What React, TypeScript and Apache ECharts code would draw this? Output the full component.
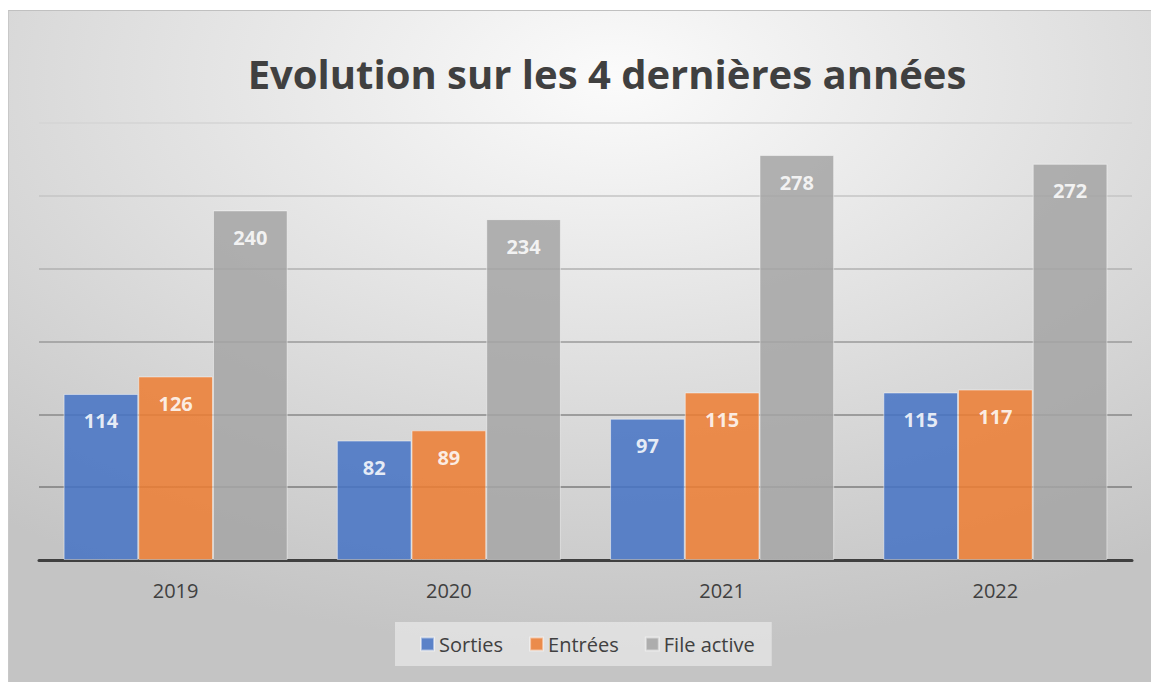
import React, { useEffect, useRef } from "react";
import * as echarts from "echarts";

const years = ["2019", "2020", "2021", "2022"];
const sorties = [114, 82, 97, 115];
const entrees = [126, 89, 115, 117];
const fileActive = [240, 234, 278, 272];
const titleText = "Evolution sur les 4 dernières années";
const FONT = "'Open Sans', 'Noto Sans', sans-serif";

export default function App() {
  const ref = useRef<HTMLDivElement>(null);
  useEffect(() => {
    if (!ref.current) return;
    const chart = echarts.init(ref.current, null, { renderer: "svg" });
    const label = {
      show: true,
      position: "insideTop",
      distance: 17,
      color: "#ffffff",
      fontWeight: "bold",
      fontSize: 20,
      fontFamily: FONT,
    };
    const mk = (name: string, data: number[], color: string) => ({
      name,
      type: "bar",
      data,
      barGap: "0%",
      barCategoryGap: "18%",
      itemStyle: {
        color,
        opacity: 0.85,
        borderColor: "rgba(255,255,255,0.55)",
        borderWidth: 1,
      },
      label,
    });
    chart.setOption({
      animation: false,
      backgroundColor: {
        type: "radial",
        x: 0.53,
        y: 0.1,
        r: 0.85,
        colorStops: [
          { offset: 0, color: "#fbfbfb" },
          { offset: 1, color: "#c4c4c4" },
        ],
      },
      title: {
        text: titleText,
        left: 593,
        top: 37,
        textAlign: "center",
        textStyle: {
          fontFamily: FONT,
          fontWeight: "bold",
          fontSize: 40,
          color: "#404040",
        },
      },
      legend: {
        data: ["Sorties", "Entrées", "File active"],
        left: 386,
        top: 611,
        padding: [12, 17, 12, 25],
        itemWidth: 13,
        itemHeight: 13,
        itemGap: 26,
        icon: "rect",
        backgroundColor: "rgba(240,240,240,0.6)",
        textStyle: { fontFamily: FONT, fontSize: 20, color: "#404040" },
      },
      grid: { left: 30, right: 19, top: 112, bottom: 122, containLabel: false },
      xAxis: {
        type: "category",
        data: years,
        axisLine: { show: true, lineStyle: { color: "#404040", width: 3 } },
        axisTick: { show: false },
        axisLabel: { margin: 20, fontFamily: FONT, fontSize: 20, color: "#404040" },
      },
      yAxis: {
        type: "value",
        min: 0,
        max: 300,
        interval: 50,
        axisLabel: { show: false },
        axisLine: { show: false },
        axisTick: { show: false },
        splitLine: {
          show: true,
          lineStyle: {
            width: 1.5,
            color: ["#404040", "#7c7c7c", "#888888", "#9a9a9a", "#b0b0b0", "#c4c4c4", "#d4d4d4"],
          },
        },
      },
      series: [
        mk("Sorties", sorties, "#4472C4"),
        mk("Entrées", entrees, "#ED7D31"),
        mk("File active", fileActive, "#A5A5A5"),
      ],
    });
    return () => chart.dispose();
  }, []);
  return (
    <div
      ref={ref}
      style={{
        position: "absolute",
        left: 8,
        top: 10,
        width: 1143,
        height: 672,
        borderTop: "1px solid #c0c0c0",
        borderLeft: "1px solid #c8c8c8",
        boxSizing: "border-box",
      }}
    />
  );
}
